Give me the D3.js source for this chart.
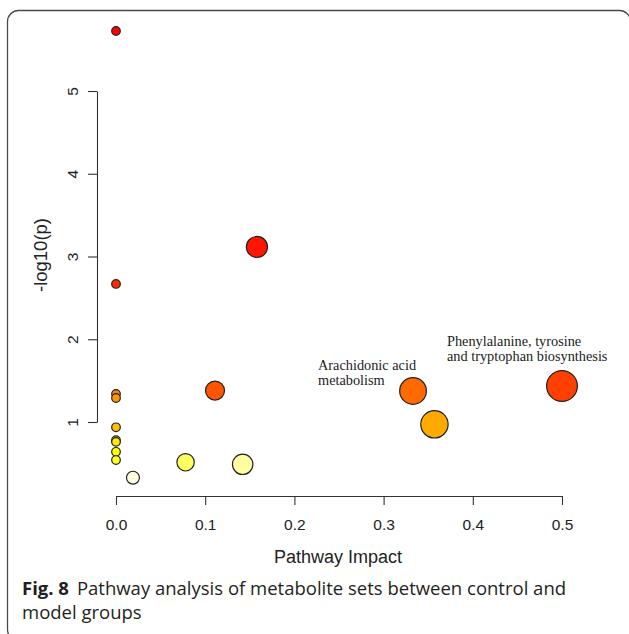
<!DOCTYPE html>
<html>
<head>
<meta charset="utf-8">
<script src="https://cdn.jsdelivr.net/npm/d3@7"></script>
<style>
  html, body { margin: 0; padding: 0; background: #fff; }
  svg { display: block; }
</style>
</head>
<body>
<svg id="chart" width="629" height="634"></svg>
<script>
// Pathway topology results: impact (x) and -log10(p) (y), ordered by significance
const pathwayImpact = [0, 0.158, 0, 0.5, 0.111, 0.333, 0, 0, 0.357, 0, 0, 0, 0, 0, 0.078, 0.142, 0.019];
const negLogP = [5.725, 3.115, 2.668, 1.435, 1.38, 1.375, 1.34, 1.29, 0.972, 0.936, 0.78, 0.76, 0.64, 0.54, 0.513, 0.489, 0.327];
const pathwayNames = ["", "", "", "Phenylalanine, tyrosine\nand tryptophan biosynthesis", "", "Arachidonic acid\nmetabolism", "", "", "", "", "", "", "", "", "", "", ""];

const xTicks = [0, 0.1, 0.2, 0.3, 0.4, 0.5];
const yTicks = [1, 2, 3, 4, 5];
const xTitle = "Pathway Impact";
const yTitle = "-log10(p)";
const captionLead = "Fig. 8";
const captionLines = ["Pathway analysis of metabolite sets between control and", "model groups"];

// R-style heat.colors(n): red→yellow hues, then yellow fading to white
function heatColors(n) {
  const j = Math.floor(n / 4), i = n - j;
  const out = [];
  for (let k = 0; k < i; k++) {
    const h = (i > 1 ? k / (i - 1) : 0) * 60;
    out.push(d3.hsl(h, 1, 0.5).formatHex());
  }
  for (let k = 0; k < j; k++) {
    const s = j > 1 ? (1 - 1 / (2 * j)) - k * ((1 - 1 / j) / (j - 1)) : 0.5;
    // HSV(60°, s, 1) → RGB(255, 255, 255*(1-s))
    out.push(d3.rgb(255, 255, Math.round(255 * (1 - s))).formatHex());
  }
  return out;
}

const svg = d3.select("#chart");

// Rounded outer frame (right and bottom edges run just past the page)
svg.append("rect")
  .attr("x", 7.5).attr("y", 10.5)
  .attr("width", 623).attr("height", 630)
  .attr("rx", 11).attr("ry", 11)
  .attr("fill", "none").attr("stroke", "#4a4a4a").attr("stroke-width", 1.3);

const x = d3.scaleLinear().domain([0, 0.5]).range([116, 562]);
const y = d3.scaleLinear().domain([1, 5]).range([422, 91]);
const r = d3.scaleSqrt().domain([0, 0.5]).range([4.3, 15.4]);

const sans = "'Liberation Sans', Arial, sans-serif";

// X axis
const xAxisY = 496;
const gx = svg.append("g").attr("transform", `translate(0,${xAxisY})`)
  .call(d3.axisBottom(x).tickValues(xTicks).tickFormat(d3.format(".1f")).tickSize(9).tickSizeOuter(0));
gx.select(".domain").attr("stroke", "#333").attr("stroke-width", 1.1);
gx.selectAll(".tick line").attr("stroke", "#333").attr("stroke-width", 1.1);
gx.selectAll(".tick text")
  .attr("y", 34).attr("dy", 0)
  .attr("font-family", sans)
  .attr("font-size", 15.5).attr("fill", "#222");

// Y axis with labels rotated parallel to the axis
const yAxisX = 97;
const gy = svg.append("g").attr("transform", `translate(${yAxisX},0)`)
  .call(d3.axisLeft(y).tickValues(yTicks).tickFormat(d3.format("d")).tickSize(9).tickSizeOuter(0));
gy.select(".domain").attr("stroke", "#333").attr("stroke-width", 1.1);
gy.selectAll(".tick line").attr("stroke", "#333").attr("stroke-width", 1.1);
gy.selectAll(".tick text")
  .attr("x", null).attr("dy", null)
  .attr("text-anchor", "middle")
  .attr("transform", "translate(-19,0) rotate(-90)")
  .attr("font-family", sans)
  .attr("font-size", 15.5).attr("fill", "#222");

// Axis titles
svg.append("text")
  .attr("x", 338).attr("y", 563)
  .attr("text-anchor", "middle")
  .attr("font-family", sans)
  .attr("font-size", 18).attr("fill", "#222")
  .text(xTitle);
svg.append("text")
  .attr("transform", "translate(47,255) rotate(-90)")
  .attr("text-anchor", "middle")
  .attr("font-family", sans)
  .attr("font-size", 18.5).attr("fill", "#222")
  .text(yTitle);

// Bubbles: size by impact, fill by significance rank
const palette = heatColors(negLogP.length);
const points = negLogP.map((v, i) => ({ impact: pathwayImpact[i], p: v, name: pathwayNames[i] }));
const rank = d3.range(points.length).sort((a, b) => points[b].p - points[a].p);
rank.forEach((idx, k) => { points[idx].fill = palette[k]; });

// draw in significance order so lower points overlap upper ones at x = 0
svg.append("g").selectAll("circle")
  .data(points.slice().sort((a, b) => b.p - a.p))
  .join("circle")
  .attr("cx", d => x(d.impact))
  .attr("cy", d => y(d.p))
  .attr("r", d => r(d.impact))
  .attr("fill", d => d.fill)
  .attr("stroke", "#222")
  .attr("stroke-width", 1.2);

// Pathway name annotations
const labelStyle = { "font-family": "'Liberation Serif', 'Times New Roman', serif", "font-size": 14.3, fill: "#222" };
const labelOffsets = { 3: { dx: -115, dy: -40 }, 5: { dx: -95, dy: -21 } };
points.forEach((d, i) => {
  if (!d.name) return;
  const off = labelOffsets[i];
  const t = svg.append("text")
    .attr("x", x(d.impact) + off.dx)
    .attr("y", y(d.p) + off.dy);
  Object.entries(labelStyle).forEach(([k, v]) => t.attr(k, v));
  d.name.split("\n").forEach((line, li) => {
    t.append("tspan")
      .attr("x", x(d.impact) + off.dx)
      .attr("dy", li === 0 ? 0 : 15.2)
      .text(line);
  });
});

// Figure caption
const capFont = "'Open Sans', 'Noto Sans', sans-serif";
const cap = svg.append("text")
  .attr("x", 22).attr("y", 595)
  .attr("font-family", capFont)
  .attr("font-size", 18.5).attr("fill", "#231f20");
cap.append("tspan").attr("font-weight", 700).text(captionLead);
cap.append("tspan").attr("dx", 8).text(captionLines[0]);
svg.append("text")
  .attr("x", 22).attr("y", 619)
  .attr("font-family", capFont)
  .attr("font-size", 18.5).attr("fill", "#231f20")
  .text(captionLines[1]);
</script>
</body>
</html>
